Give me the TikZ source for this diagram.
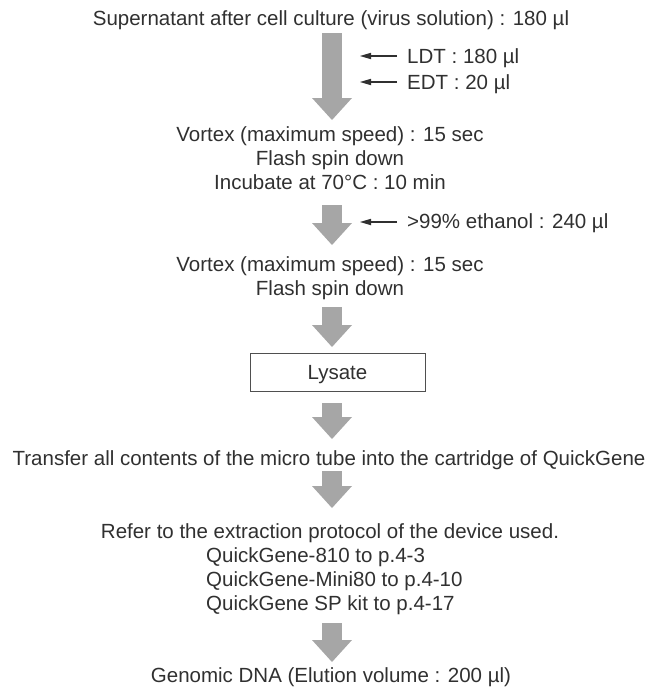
\documentclass[tikz,border=0pt]{standalone}
\usepackage{fontspec}
\setmainfont{Liberation Sans}
\usetikzlibrary{arrows.meta}
\definecolor{txt}{HTML}{303030}
\definecolor{arr}{HTML}{A6A6A6}
\tikzset{
  lbl/.style={text=txt, font=\fontsize{20.5}{24}\selectfont, inner sep=0pt, anchor=base},
  lleft/.style={lbl, anchor=base west},
  blk/.style={draw=arr, line width=20pt, -{Triangle[length=22pt,width=40pt,line width=0pt]}},
  sidearr/.style={draw=txt, line width=1.1pt, -{Triangle[length=11pt,width=6.5pt,line width=0pt]}},
  box/.style={draw=txt!85, line width=0.9pt, minimum width=175pt, minimum height=38pt, inner sep=0pt}
}
\begin{document}
\begin{tikzpicture}[x=1pt,y=1pt]
\useasboundingbox (0,0) rectangle (657,-688);
% texts
\node[lbl] (t1) at (331,-25) {Supernatant after cell culture (virus solution) : 180 µl};
\node[lleft] (ldt) at (407,-63.5) {LDT : 180 µl};
\node[lleft] (edt) at (407,-89.5) {EDT : 20 µl};
\node[lbl] (v1a) at (330,-141) {Vortex (maximum speed) : 15 sec};
\node[lbl] (v1b) at (330,-165) {Flash spin down};
\node[lbl] (v1c) at (330,-189) {Incubate at 70°C : 10 min};
\node[lleft] (eth) at (407,-228.5) {>99\% ethanol : 240 µl};
\node[lbl] (v2a) at (330,-271) {Vortex (maximum speed) : 15 sec};
\node[lbl] (v2b) at (330,-295) {Flash spin down};
\node[box] (lys) at (337.5,-372) {};
\node[lbl] (lyt) at (337.5,-379) {Lysate};
\node[lbl] (tr) at (329,-465) {Transfer all contents of the micro tube into the cartridge of QuickGene};
\node[lbl] (ref) at (330,-538) {Refer to the extraction protocol of the device used.};
\node[lleft] (q1) at (206,-562) {QuickGene-810 to p.4-3};
\node[lleft] (q2) at (206,-586) {QuickGene-Mini80 to p.4-10};
\node[lleft] (q3) at (206,-610) {QuickGene SP kit to p.4-17};
\node[lbl] (gd) at (331,-682) {Genomic DNA (Elution volume : 200 µl)};
% block arrows
\coordinate (a1s) at (332,-33);  \coordinate (a1e) at (332,-120);
\coordinate (a2s) at (332,-205); \coordinate (a2e) at (332,-245);
\coordinate (a3s) at (332,-307); \coordinate (a3e) at (332,-347);
\coordinate (a4s) at (332,-403); \coordinate (a4e) at (332,-439);
\coordinate (a5s) at (332,-471); \coordinate (a5e) at (332,-508);
\coordinate (a6s) at (332,-623); \coordinate (a6e) at (332,-662);
\draw[blk] (a1s) -- (a1e);
\draw[blk] (a2s) -- (a2e);
\draw[blk] (a3s) -- (a3e);
\draw[blk] (a4s) -- (a4e);
\draw[blk] (a5s) -- (a5e);
\draw[blk] (a6s) -- (a6e);
% side arrows
\draw[sidearr] ([xshift=-10pt,yshift=7.5pt]ldt.base west) -- ++(-37,0);
\draw[sidearr] ([xshift=-10pt,yshift=7.5pt]edt.base west) -- ++(-37,0);
\draw[sidearr] ([xshift=-10pt,yshift=6.5pt]eth.base west) -- ++(-37,0);
\end{tikzpicture}
\end{document}
